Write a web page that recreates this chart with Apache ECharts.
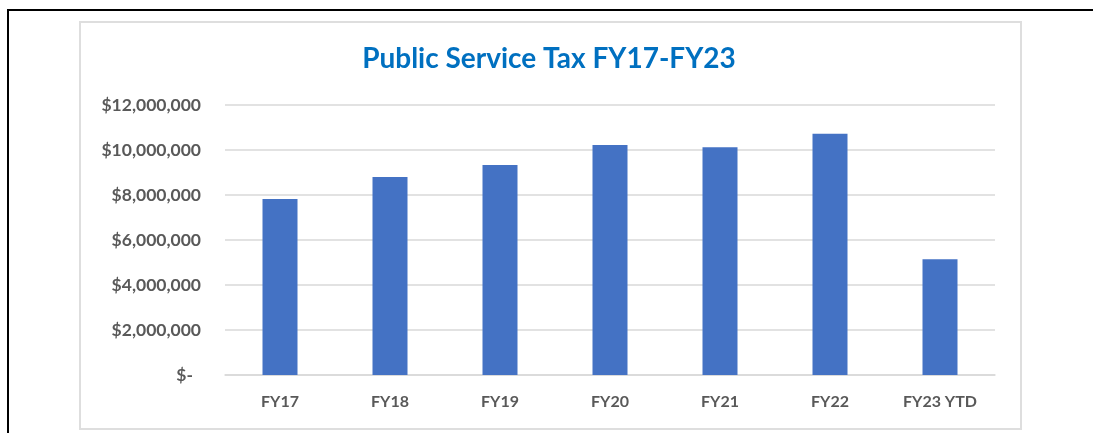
<!DOCTYPE html>
<html>
<head>
<meta charset="utf-8">
<title>Public Service Tax FY17-FY23</title>
<script src="https://cdn.jsdelivr.net/npm/echarts@6/dist/echarts.min.js"></script>
<style>
  html, body {
    margin: 0;
    padding: 0;
    background: #fff;
  }
  .page {
    position: relative;
    width: 1093px;
    height: 433px;
    overflow: hidden;
  }
  /* black frame, open at right and bottom */
  .frame {
    position: absolute;
    left: 7px;
    top: 9px;
    width: 1100px;
    height: 440px;
    border-left: 2px solid #000;
    border-top: 2px solid #000;
  }
  /* light chart-area box */
  .chart-box {
    position: absolute;
    left: 79px;
    top: 21px;
    width: 939px;
    height: 405px;
    border: 2px solid #dedede;
  }
  #chart {
    position: absolute;
    left: 0;
    top: 0;
    width: 1093px;
    height: 433px;
  }
</style>
</head>
<body>
<div class="page">
  <div class="frame"></div>
  <div class="chart-box"></div>
  <div id="chart"></div>
</div>
<script>
const categories = ['FY17', 'FY18', 'FY19', 'FY20', 'FY21', 'FY22', 'FY23 YTD']
const taxValues = [7820000, 8800000, 9330000, 10220000, 10120000, 10720000, 5140000]
const yTicks = [0, 2000000, 4000000, 6000000, 8000000, 10000000, 12000000]

const labelFont = 'Lato, "Open Sans", sans-serif'

function formatMoney(v) {
  if (v === 0) return '{dash|$-}'
  return '$' + v.toLocaleString('en-US')
}

const chart = echarts.init(document.getElementById('chart'), null, { renderer: 'canvas' })

const option = {
  backgroundColor: 'transparent',
  animation: false,
  title: {
    text: 'Public Service Tax FY17-FY23',
    left: 544,
    top: 40,
    textAlign: 'center',
    textStyle: {
      color: '#0070C0',
      fontFamily: labelFont,
      fontWeight: 'bold',
      fontSize: 28
    }
  },
  grid: {
    left: 225,
    right: 98,
    top: 105,
    bottom: 58,
    containLabel: false
  },
  xAxis: {
    type: 'category',
    data: categories,
    axisTick: { show: false },
    axisLine: {
      lineStyle: { color: '#d9d9d9', width: 1.5 }
    },
    axisLabel: {
      color: '#595959',
      fontFamily: labelFont,
      fontWeight: 'bold',
      fontSize: 16,
      margin: 19
    }
  },
  yAxis: {
    type: 'value',
    min: yTicks[0],
    max: yTicks[yTicks.length - 1],
    interval: yTicks[1] - yTicks[0],
    axisLine: { show: false },
    axisTick: { show: false },
    splitLine: {
      lineStyle: { color: '#d9d9d9', width: 1.5 }
    },
    axisLabel: {
      color: '#595959',
      fontFamily: labelFont,
      fontWeight: 'bold',
      fontSize: 17.5,
      margin: 24,
      formatter: formatMoney,
      rich: {
        dash: {
          color: '#595959',
          fontFamily: labelFont,
          fontWeight: 'bold',
          fontSize: 17.5,
          padding: [0, 8, 0, 0]
        }
      }
    }
  },
  series: [
    {
      name: 'Public Service Tax',
      type: 'bar',
      data: taxValues,
      barWidth: 35,
      itemStyle: {
        color: '#4472C4'
      }
    }
  ]
}

chart.setOption(option)
</script>
</body>
</html>
